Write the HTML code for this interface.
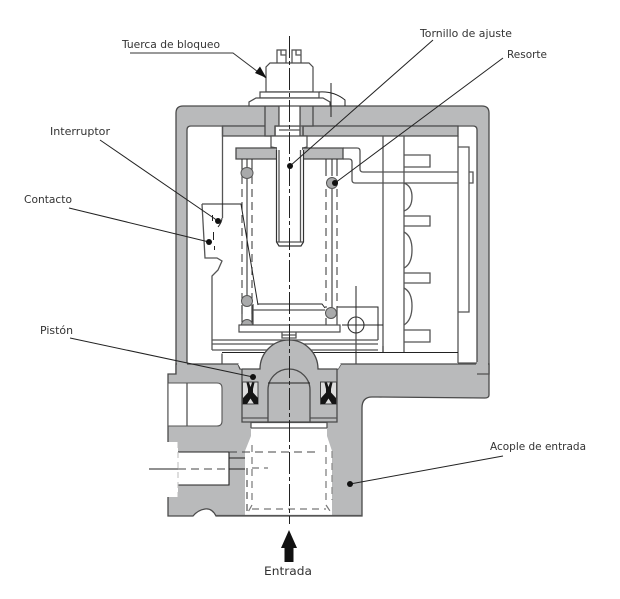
<!DOCTYPE html>
<html><head><meta charset="utf-8"><style>
html,body{margin:0;padding:0;background:#fff;width:620px;height:599px;overflow:hidden}
svg{display:block;filter:blur(.3px)}
text{font-family:"DejaVu Sans","Liberation Sans",sans-serif;font-size:10.6px;fill:#333}
.g{fill:#b9babb;stroke:#4a4a4a;stroke-width:1.3}
.n{fill:#b9babb;stroke:none}
.w{fill:#fff;stroke:#4a4a4a;stroke-width:1.2}
.l{fill:none;stroke:#555;stroke-width:1.3}
.k{fill:none;stroke:#222;stroke-width:1}
.d{fill:none;stroke:#444;stroke-width:1.1;stroke-dasharray:8 5}
.gd{fill:none;stroke:#777;stroke-width:1.2;stroke-dasharray:7 5}
.c{fill:#a9aaab;stroke:#555;stroke-width:1}
</style></head><body>
<svg width="620" height="599" viewBox="0 0 620 599" xmlns="http://www.w3.org/2000/svg">
<rect width="620" height="599" fill="#fff"/>
<!-- housing -->
<path class="g" d="M176 374V113Q176 106 183 106H482Q489 106 489 113V374H477V130Q477 126 473 126H191Q187 126 187 130V364H176Z"/>
<path class="n" d="M187 107H477V125.400H187Z"/>
<!-- plate under top -->
<path class="g" d="M222.500 126H275V136H222.500Z"/>
<path class="g" d="M303 126H458V136H303Z"/>
<!-- inner frame -->
<path class="l" d="M222.500 126V218M383 136V352M404 136V352M458 136V363M458 147H469V312H458M469 172H473V183H469"/>
<path class="l" d="M404 155H430V167H404M404 216H430V226H404M404 273H430V283H404M404 330H430V342H404"/>
<path class="l" d="M404 183Q412 186 412 197T404 211M404 232Q412 236 412 250T404 268M404 288Q412 292 412 306T404 325"/>
<!-- strap -->
<path class="l" d="M343 148H357Q360 148 360 151V169Q360 172 363 172H458M343 159H349Q352 159 352 162V180Q352 183 355 183H458"/>
<!-- adjusting stack -->
<path class="g" d="M265 106H279V126H275V136H265Z" />
<path class="g" d="M300 106H313V126H303V136H300Z" />
<rect x="279" y="106" width="21" height="20" fill="#fff"/>
<path class="l" d="M279 106V126M300 106V126M275 126H303M275 136V126M303 136V126M279 130H300"/>
<path class="w" d="M271 136H307V147L303 148H277L271 147Z"/>
<!-- spring plate -->
<path class="g" d="M236 148H277V159H236Z"/>
<path class="g" d="M302 148H343V159H302Z"/>
<!-- bolt -->
<rect x="277" y="147" width="25" height="95" fill="#fff"/>
<path d="M276.500 150V242L279 246H301L303.500 242V150" fill="#fff" stroke="#333" stroke-width="1.200"/>
<path class="l" d="M279 150V242M300.500 150V242M277 242H303"/>
<!-- springs -->
<path class="k" d="M247 159V176M252 159V176M326 159V176M332 159V176M337 159V176M242 159V176"/>
<path class="d" d="M242 176V318M252 176V318M326 189V308M337 189V308"/>
<path class="k" d="M247 179V296M332 189V308"/>
<path class="k" d="M242 305V325M252 305V325M326 318V325"/>
<ellipse class="c" cx="247" cy="173" rx="6" ry="5.500"/>
<circle class="c" cx="332" cy="183" r="5.500"/>
<circle class="c" cx="247" cy="301" r="5.500"/>
<path class="c" d="M241.500 325A5.500 5.500 0 0 1 252.500 325Z"/>
<circle class="c" cx="331" cy="313" r="5.500"/>
<!-- switch -->
<path class="k" d="M202 204H241L258 305"/>
<path class="l" d="M202 204L205 258H217L222 261L218 270L212 276V350"/>
<path class="k" d="M218 227Q222 222 222 218"/>
<path class="k" d="M212.500 215V221M213.500 232V240M214.500 246V250" stroke="#555"/>
<!-- lower plate -->
<path class="k" d="M258 304H322L325 308"/>
<path class="l" d="M253 304V325M253 310H325"/>
<rect class="w" x="239" y="325" width="101" height="7"/>
<path class="l" d="M282 332V338H296V332M282 335H296"/>
<path class="k" d="M337 307H378V340"/>
<path class="l" d="M337 307V325"/>
<circle cx="356" cy="325" r="8" fill="#fff" stroke="#333" stroke-width="1.100"/>
<path class="k" d="M356 286V364M342 325H383"/>
<path class="l" d="M212 340H378M212 344H378M212 350H378M222 353.500V364M383 346V352"/>
<path class="k" d="M222 352.500H458"/>
<!-- nut -->
<path class="w" d="M277 63V50H286V63M292 63V50H301V63"/>
<path class="l" d="M281 50V55H286M296 50V55H301"/>
<path class="w" d="M266 92V67L270 63H309L313 67V92Z"/>
<path class="w" d="M260 92H319V98H260Z"/>
<path class="w" d="M249 106V102L256 98H323L330 102V106Z"/>
<path class="k" d="M319 92Q334 91 345 100V106M331 83V117"/>
<!-- body -->
<path class="g" d="M168 374H176V364H187V364H238L240 369H338L341 364H489V374H489V395Q489 398 485 398L378 397H372Q362 397 362 408V516H216Q212 508 205 509Q198 510 193 516H168Z"/>
<path class="n" d="M177 363H187V375H177Z"/>
<path class="n" d="M476 362H488V373H476Z"/>
<path class="l" d="M458 363H477" stroke="#777"/>
<path class="l" d="M477 374H489"/>
<!-- small pale trapezoids -->
<path d="M238 364H262L258 369H241Z" fill="#fff"/>
<path d="M316 364H341L338 369H320Z" fill="#fff"/>
<!-- side ports -->
<path d="M168 383H217Q222 383 222 388V421Q222 426 217 426H168Z" fill="#fff" stroke="#555" stroke-width="1.100"/>
<path class="l" d="M187 383V426"/>
<path d="M166 442H178V497H166Z" fill="#fff"/>
<rect x="178" y="452" width="51" height="33" fill="#fff"/>
<path d="M178 452H229V485H178" fill="none" stroke="#222" stroke-width="1.100"/>
<path class="k" d="M229 458H261M149 469H178M229 469H247"/>
<path class="d" d="M178 469H229"/>
<path d="M178 442V497" stroke="#bbb" stroke-width="1" fill="none" stroke-dasharray="6 4"/>
<!-- bore -->
<path d="M251 423H327V436L332 451V515H245V451L251 436Z" fill="#fff"/>
<path class="l" d="M251 422.500H327M251 428H327M251 422.500V428M327 422.500V428"/>
<path class="l" d="M216 515.500H362" stroke="#777"/>
<path d="M247 468V508L247 515" fill="none" stroke="#444" stroke-width="1.100" stroke-dasharray="7 5"/>
<path d="M332 451V500" fill="none" stroke="#888" stroke-width="1.200" stroke-dasharray="7 5"/>
<path d="M229 452H318" class="d"/>
<path class="gd" d="M252 445V505L247 514M326 445V505L332 514M252 509H326"/>
<path class="gd" d="M252 468H268"/>
<!-- chamber & piston -->
<path class="g" d="M242 369H260A29 29 0 0 1 318 369H337V422H242Z"/>
<path class="l" d="M242 418H268M310 418H337" stroke="#555"/>
<path class="g" d="M268 422V390A21 21 0 0 1 310 390V422Z"/>
<path class="k" d="M268 383H310" stroke="#555"/>
<rect x="242.500" y="382" width="15.500" height="22" fill="#ddd" stroke="#444"/>
<rect x="320.500" y="382" width="16" height="22" fill="#ddd" stroke="#444"/>
<path d="M246.500 382.500H249L250.500 387L252 382.500H254.500L253 389V392.500L258 398V404H254L250.500 398.500L247 404H243V398L248 392.500V389Z" fill="#151515"/>
<path d="M324.500 382.500H327L328.500 387L330 382.500H332.500L331 389V392.500L336 398V404H332L328.500 398.500L325 404H321V398L326 392.500V389Z" fill="#151515"/>
<!-- axis -->
<path d="M289.500 36V524" fill="none" stroke="#222" stroke-width="1" stroke-dasharray="22 3 4 3"/>
<!-- leaders -->
<path d="M130 53H233L266 78" fill="none" stroke="#333" stroke-width="1"/>
<path d="M266.500 78L255 73L260 66.500Z" fill="#111"/>
<path class="k" d="M433 40L290 166"/>
<circle cx="290" cy="166" r="3" fill="#111"/>
<path class="k" d="M503 58L335 183"/>
<circle cx="335" cy="183" r="3" fill="#111"/>
<path class="k" d="M100 140L218 221"/>
<circle cx="218" cy="221" r="3" fill="#111"/>
<path class="k" d="M69 208L209 242"/>
<circle cx="209" cy="242" r="3" fill="#111"/>
<path class="k" d="M70 338L253 377"/>
<circle cx="253" cy="377" r="3" fill="#111"/>
<path class="k" d="M503 456L350 484"/>
<circle cx="350" cy="484" r="3" fill="#111"/>
<!-- entrada arrow -->
<path d="M289 530L297 548H293.500V562H284.500V548H281Z" fill="#111"/>
<!-- labels -->
<text x="122" y="48" textLength="98" lengthAdjust="spacingAndGlyphs">Tuerca de bloqueo</text>
<text x="420" y="37" textLength="92" lengthAdjust="spacingAndGlyphs">Tornillo de ajuste</text>
<text x="507" y="58" textLength="40" lengthAdjust="spacingAndGlyphs">Resorte</text>
<text x="50" y="135" textLength="60" lengthAdjust="spacingAndGlyphs">Interruptor</text>
<text x="24" y="203" textLength="48" lengthAdjust="spacingAndGlyphs">Contacto</text>
<text x="40" y="334" textLength="33" lengthAdjust="spacingAndGlyphs">Pistón</text>
<text x="490" y="450" textLength="96" lengthAdjust="spacingAndGlyphs">Acople de entrada</text>
<text x="264" y="575" textLength="48" lengthAdjust="spacingAndGlyphs" style="font-size:11.800px">Entrada</text>
</svg>
</body></html>
